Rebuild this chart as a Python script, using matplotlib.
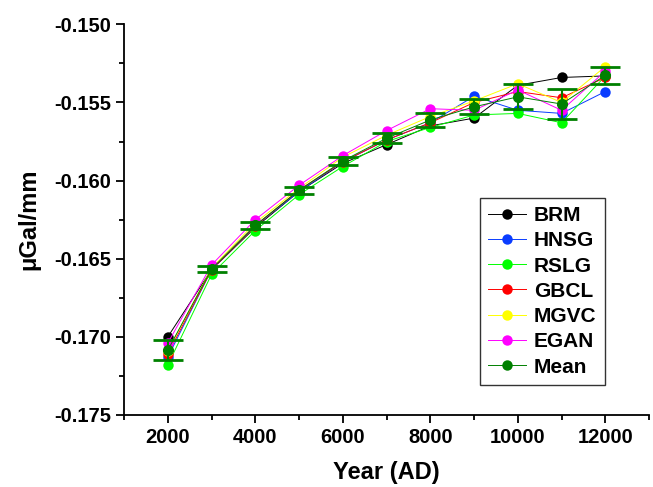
import numpy as np
import matplotlib
matplotlib.use('Agg')
import matplotlib.pyplot as plt
from matplotlib.ticker import MultipleLocator, FormatStrFormatter
from matplotlib.lines import Line2D

plt.rcParams['font.family'] = ['Liberation Sans', 'DejaVu Sans']
plt.rcParams['font.weight'] = 'bold'

# --- data: gravity gradient per site, 2000-12000 AD ---
years = [2000, 3000, 4000, 5000, 6000, 7000, 8000, 9000, 10000, 11000, 12000]

brm  = [-0.1700, -0.1657, -0.1630, -0.1607, -0.1589, -0.1577, -0.1565, -0.1560, -0.1539, -0.1534, -0.1533]
hnsg = [-0.1713, -0.1657, -0.1629, -0.1607, -0.1588, -0.1574, -0.1563, -0.1546, -0.1555, -0.1557, -0.1543]
rslg = [-0.1718, -0.1660, -0.1632, -0.1609, -0.1591, -0.1575, -0.1566, -0.1558, -0.1557, -0.1563, -0.1533]
gbcl = [-0.1711, -0.1657, -0.1629, -0.1606, -0.1588, -0.1574, -0.1563, -0.1550, -0.1543, -0.1547, -0.1534]
mgvc = [-0.1709, -0.1656, -0.1627, -0.1605, -0.1585, -0.1571, -0.1559, -0.1549, -0.1538, -0.1550, -0.1527]
egan = [-0.1704, -0.1654, -0.1625, -0.1603, -0.1584, -0.1568, -0.1554, -0.1555, -0.1542, -0.1555, -0.1530]

mean_val = [-0.17085, -0.16566, -0.16286, -0.16062, -0.15874, -0.15729, -0.15612, -0.15528, -0.15464, -0.15510, -0.15326]
mean_err = [0.00065, 0.00022, 0.00024, 0.00024, 0.00027, 0.00032, 0.00043, 0.00048, 0.00080, 0.00098, 0.00055]

series = [
    ('BRM', brm, '#000000'),
    ('HNSG', hnsg, '#0a3cff'),
    ('RSLG', rslg, '#00ff00'),
    ('GBCL', gbcl, '#ff0000'),
    ('MGVC', mgvc, '#ffff00'),
    ('EGAN', egan, '#ff00ff'),
]
GREEN = '#008000'

fig = plt.figure(figsize=(6.53, 4.87), dpi=100)
ax = fig.add_axes([0.19, 0.148, 0.804, 0.802])

handles = []
for name, vals, col in series:
    ln, = ax.plot(years, vals, color=col, lw=0.7, marker='o', ms=7.5,
                  markeredgewidth=0, label=name)
    handles.append(ln)

ax.errorbar(years, mean_val, yerr=mean_err, color=GREEN, lw=0.7,
            marker='o', ms=7, mec=GREEN, ecolor=GREEN,
            elinewidth=1.5, capsize=10.5, capthick=2)
# legend entry for the mean without the error bar glyph
handles.append(Line2D([], [], color=GREEN, lw=0.7, marker='o', ms=7.5,
                      markeredgewidth=0, label='Mean'))

ax.set_xlim(1000, 13000)
ax.set_ylim(-0.175, -0.150)
ax.xaxis.set_major_locator(MultipleLocator(2000))
ax.xaxis.set_minor_locator(MultipleLocator(1000))
ax.yaxis.set_major_locator(MultipleLocator(0.005))
ax.yaxis.set_minor_locator(MultipleLocator(0.0025))
ax.yaxis.set_major_formatter(FormatStrFormatter('%.3f'))
ax.set_xticks([2000, 4000, 6000, 8000, 10000, 12000])

for s in ['top', 'right']:
    ax.spines[s].set_visible(False)
for s in ['left', 'bottom']:
    ax.spines[s].set_linewidth(1.3)
ax.tick_params(which='major', direction='out', length=6, width=1.3, labelsize=14.5)
ax.tick_params(which='minor', direction='out', length=3.5, width=1.3)

ax.set_xlabel('Year (AD)', fontsize=17, fontweight='bold', labelpad=10)
ax.set_ylabel('μGal/mm', fontsize=17, fontweight='bold', labelpad=10)

leg = ax.legend(handles=handles, loc='lower right', bbox_to_anchor=(0.916, 0.077),
                fontsize=15, frameon=True, fancybox=False, edgecolor='#333333',
                framealpha=1, handlelength=1.8, labelspacing=0.3,
                borderpad=0.4, handletextpad=0.4, borderaxespad=0)
leg.get_frame().set_linewidth(1.0)

fig.savefig('out.png', dpi=100)
